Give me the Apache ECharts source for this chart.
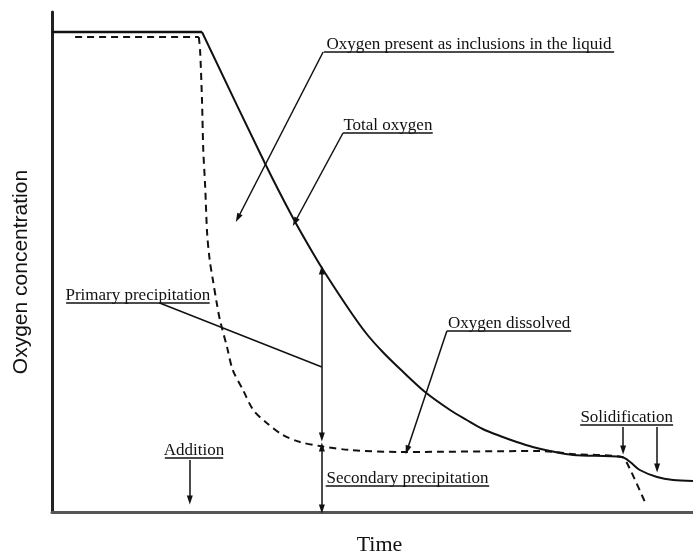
<!DOCTYPE html>
<html>
<head>
<meta charset="utf-8">
<script src="https://cdn.jsdelivr.net/npm/echarts@6/dist/echarts.min.js"></script>
<style>
html,body{margin:0;padding:0;background:#fff;}
#chart{width:693px;height:554px;}
</style>
</head>
<body>
<div id="chart"></div>
<script>
// Total oxygen (solid curve)
const tTotal = [0, 23.4, 33.2, 37.6, 40.7, 42.6, 46.5, 49.1, 51.6, 54.3, 58.2, 62.1, 64.7, 67.2, 69.9, 72.5, 75.0, 77.7, 81.3, 88.9, 90.2, 91.7, 94.4, 96.9, 100];
const vTotal = [96, 96, 69.8, 58.8, 51.8, 47.8, 40.2, 35.6, 32, 28.6, 24, 20.4, 18.4, 16.6, 15.2, 14, 13, 12.2, 11.4, 11, 10, 8.4, 7, 6.4, 6.2];
// Oxygen dissolved (dashed curve)
const tDiss = [3.6, 22.9, 23.1, 23.4, 23.6, 23.9, 24.2, 24.6, 25.1, 25.7, 26.2, 27.3, 28.2, 29.8, 31.4, 33.5, 36.0, 38.7, 41.8, 46.5, 54.3, 76.1, 81.3, 88.9, 89.7, 92.5];
const vDiss = [95, 95, 92.4, 82.4, 72.4, 65, 55.8, 50.4, 46.4, 41.8, 38.4, 33, 28.4, 24.4, 20.4, 17.8, 15.4, 14, 13.2, 12.4, 12, 12.2, 11.6, 11, 9.8, 2];

// Annotation labels with their underline extents [x1, x2, y] in data units
const noteText = [
  'Oxygen present as inclusions in the liquid',
  'Total oxygen',
  'Primary precipitation',
  'Addition',
  'Secondary precipitation',
  'Oxygen dissolved',
  'Solidification'
];
const noteLine = [
  [42.4, 87.7, 92],
  [45.4, 59.4, 75.8],
  [2.2, 24.6, 41.8],
  [17.6, 26.7, 10.8],
  [42.7, 68.2, 5.2],
  [61.6, 81.0, 36.2],
  [82.4, 96.9, 17.4]
];
// Leader lines / arrows [x1, y1, x2, y2, arrowAtStart, arrowAtEnd]
const arrows = [
  [42.3, 92, 29.0, 58.8, 0, 1],
  [45.4, 75.8, 37.9, 58.0, 0, 1],
  [16.8, 41.8, 42.1, 29.0, 0, 0],
  [42.1, 15.0, 42.1, 48.4, 1, 1],
  [42.1, 13.0, 42.1, 0.6, 1, 1],
  [21.5, 10.4, 21.5, 2.4, 0, 1],
  [61.6, 36.2, 55.4, 12.4, 0, 1],
  [89.1, 17.0, 89.1, 12.4, 0, 1],
  [94.4, 17.0, 94.4, 8.8, 0, 1]
];

const zip = (a, b) => a.map((x, i) => [x, b[i]]);
const serif = 'Liberation Serif';
const totalPts = zip(tTotal, vTotal);
const dissPts = zip(tDiss, vDiss);

const underlineData = noteLine.map((l, i) => [
  {coord: [l[0], l[2]], symbol: 'none',
   label: {show: true, position: 'insideMiddleTop', formatter: noteText[i], distance: -1,
           fontFamily: serif, fontSize: 17, color: '#111'}},
  {coord: [l[1], l[2]], symbol: 'none'}
]);
const arrowData = arrows.map(a => [
  {coord: [a[0], a[1]], symbol: a[4] ? 'triangle' : 'none', symbolSize: [6, 9], label: {show: false}},
  {coord: [a[2], a[3]], symbol: a[5] ? 'triangle' : 'none', symbolSize: [6, 9]}
]);

const solidStyle = {color: '#111', width: 2};
const dashStyle = {color: '#111', width: 2, type: [7, 5]};

const chart = echarts.init(document.getElementById('chart'), null, {renderer: 'canvas'});
chart.setOption({
  animation: false,
  backgroundColor: '#fff',
  grid: {left: 52, right: 0, top: 12, bottom: 42, containLabel: false, outerBoundsMode: 'none'},
  xAxis: {
    type: 'value', min: 0, max: 100,
    name: 'Time', nameLocation: 'middle', nameGap: 22,
    nameTextStyle: {fontFamily: serif, fontSize: 22, color: '#111', padding: [0, 0, 0, 14]},
    axisLine: {show: true, lineStyle: {color: '#555', width: 3}},
    axisTick: {show: false}, axisLabel: {show: false}, splitLine: {show: false}
  },
  yAxis: {
    type: 'value', min: 0, max: 100,
    name: 'Oxygen concentration', nameLocation: 'middle', nameGap: 20,
    nameTextStyle: {fontFamily: 'Liberation Sans', fontSize: 21, color: '#111', padding: [0, 0, 0, -20]},
    axisLine: {show: true, lineStyle: {color: '#222', width: 3}},
    axisTick: {show: false}, axisLabel: {show: false}, splitLine: {show: false}
  },
  series: [
    {
      name: 'Total oxygen', type: 'line', data: totalPts.slice(0, 2),
      showSymbol: false, smooth: false, lineStyle: Object.assign({}, solidStyle, {width: 2.5}), silent: true
    },
    {
      name: 'Total oxygen', type: 'line', data: totalPts.slice(1),
      showSymbol: false, smooth: 0.3, lineStyle: solidStyle, silent: true,
      markLine: {
        silent: true, animation: false,
        lineStyle: {type: 'solid', color: '#111', width: 1.5},
        label: {show: false},
        data: underlineData.concat(arrowData)
      }
    },
    {
      name: 'Oxygen dissolved', type: 'line', data: dissPts.slice(0, 2),
      showSymbol: false, smooth: false, lineStyle: dashStyle, silent: true
    },
    {
      name: 'Oxygen dissolved', type: 'line', data: dissPts.slice(1),
      showSymbol: false, smooth: 0.3, lineStyle: dashStyle, silent: true
    }
  ]
});
</script>
</body>
</html>
